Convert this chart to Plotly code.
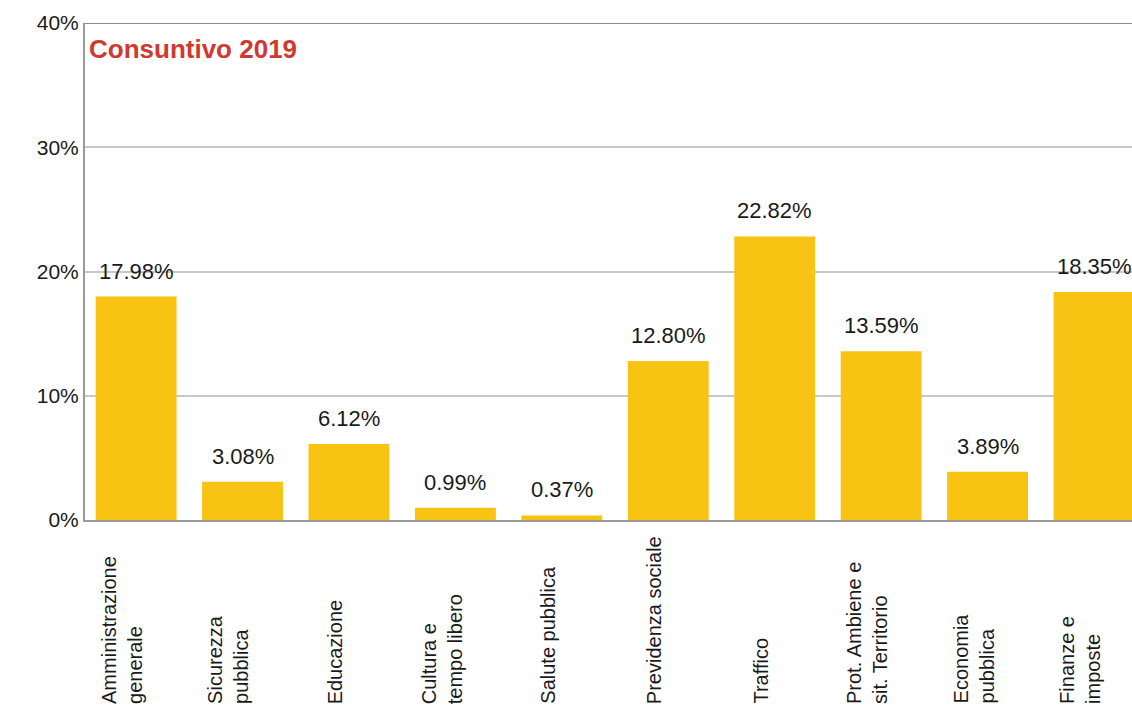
import plotly.graph_objects as go

categories = ["Amministrazione<br>generale", "Sicurezza<br>pubblica", "Educazione",
              "Cultura e<br>tempo libero", "Salute pubblica", "Previdenza sociale",
              "Traffico", "Prot. Ambiene e<br>sit. Territorio", "Economia<br>pubblica",
              "Finanze e<br>imposte"]
values = [17.98, 3.08, 6.12, 0.99, 0.37, 12.80, 22.82, 13.59, 3.89, 18.35]
value_labels = ["17.98%", "3.08%", "6.12%", "0.99%", "0.37%", "12.80%", "22.82%",
                "13.59%", "3.89%", "18.35%"]
y_ticks = [0, 10, 20, 30, 40]
y_ticktext = ["0%", "10%", "20%", "30%", "40%"]
title_text = "Consuntivo 2019"

xs = list(range(len(categories)))
FONT = "Liberation Sans, Arial, sans-serif"

fig = go.Figure()
fig.add_trace(go.Bar(x=xs, y=values, marker=dict(color="#F9C314", line=dict(width=0)),
                     width=0.76, hoverinfo="skip"))

annotations = []
for i, (v, t) in enumerate(zip(values, value_labels)):
    annotations.append(dict(x=i, y=v, xref="x", yref="y", text=t,
                            showarrow=False, yanchor="bottom", xanchor="center", yshift=11,
                            font=dict(size=22, color="#1a1a1a", family=FONT)))
for i, c in enumerate(categories):
    annotations.append(dict(x=i, y=-0.374, xref="x", yref="paper", text=c, textangle=-90,
                            showarrow=False, yanchor="bottom", xanchor="center", align="left",
                            xshift=-14,
                            font=dict(size=20, color="#1a1a1a", family=FONT)))
annotations.append(dict(x=0.002, y=0.982, xref="paper", yref="paper", text="<b>" + title_text + "</b>",
                        showarrow=False, xanchor="left", yanchor="top",
                        font=dict(size=26, color="#D0392F", family=FONT)))

fig.update_layout(
    width=1132, height=712,
    margin=dict(l=85, r=0, t=23, b=192),
    paper_bgcolor="white", plot_bgcolor="white",
    showlegend=False,
    annotations=annotations,
    xaxis=dict(range=[-0.48, 9.357], showticklabels=False, showgrid=False, zeroline=False,
               showline=True, linecolor="#9a9a9a", linewidth=2, mirror=False, ticks="",
               automargin=False),
    yaxis=dict(range=[0, 40], tickvals=y_ticks, ticktext=y_ticktext, showgrid=True,
               gridcolor="#c8c8c8", gridwidth=1.5, zeroline=False, showline=True,
               linecolor="#9a9a9a", linewidth=2, ticks="", ticklen=0, automargin=False,
               tickfont=dict(size=21, color="#1a1a1a", family=FONT)),
)
fig.add_shape(type="line", xref="paper", yref="y", x0=0, x1=1, y0=40, y1=40,
              line=dict(color="#8a8a8a", width=2))

fig.write_html("out.html", config={"displayModeBar": False},
               post_script="document.body.style.margin='0px';document.body.style.overflow='hidden';")
